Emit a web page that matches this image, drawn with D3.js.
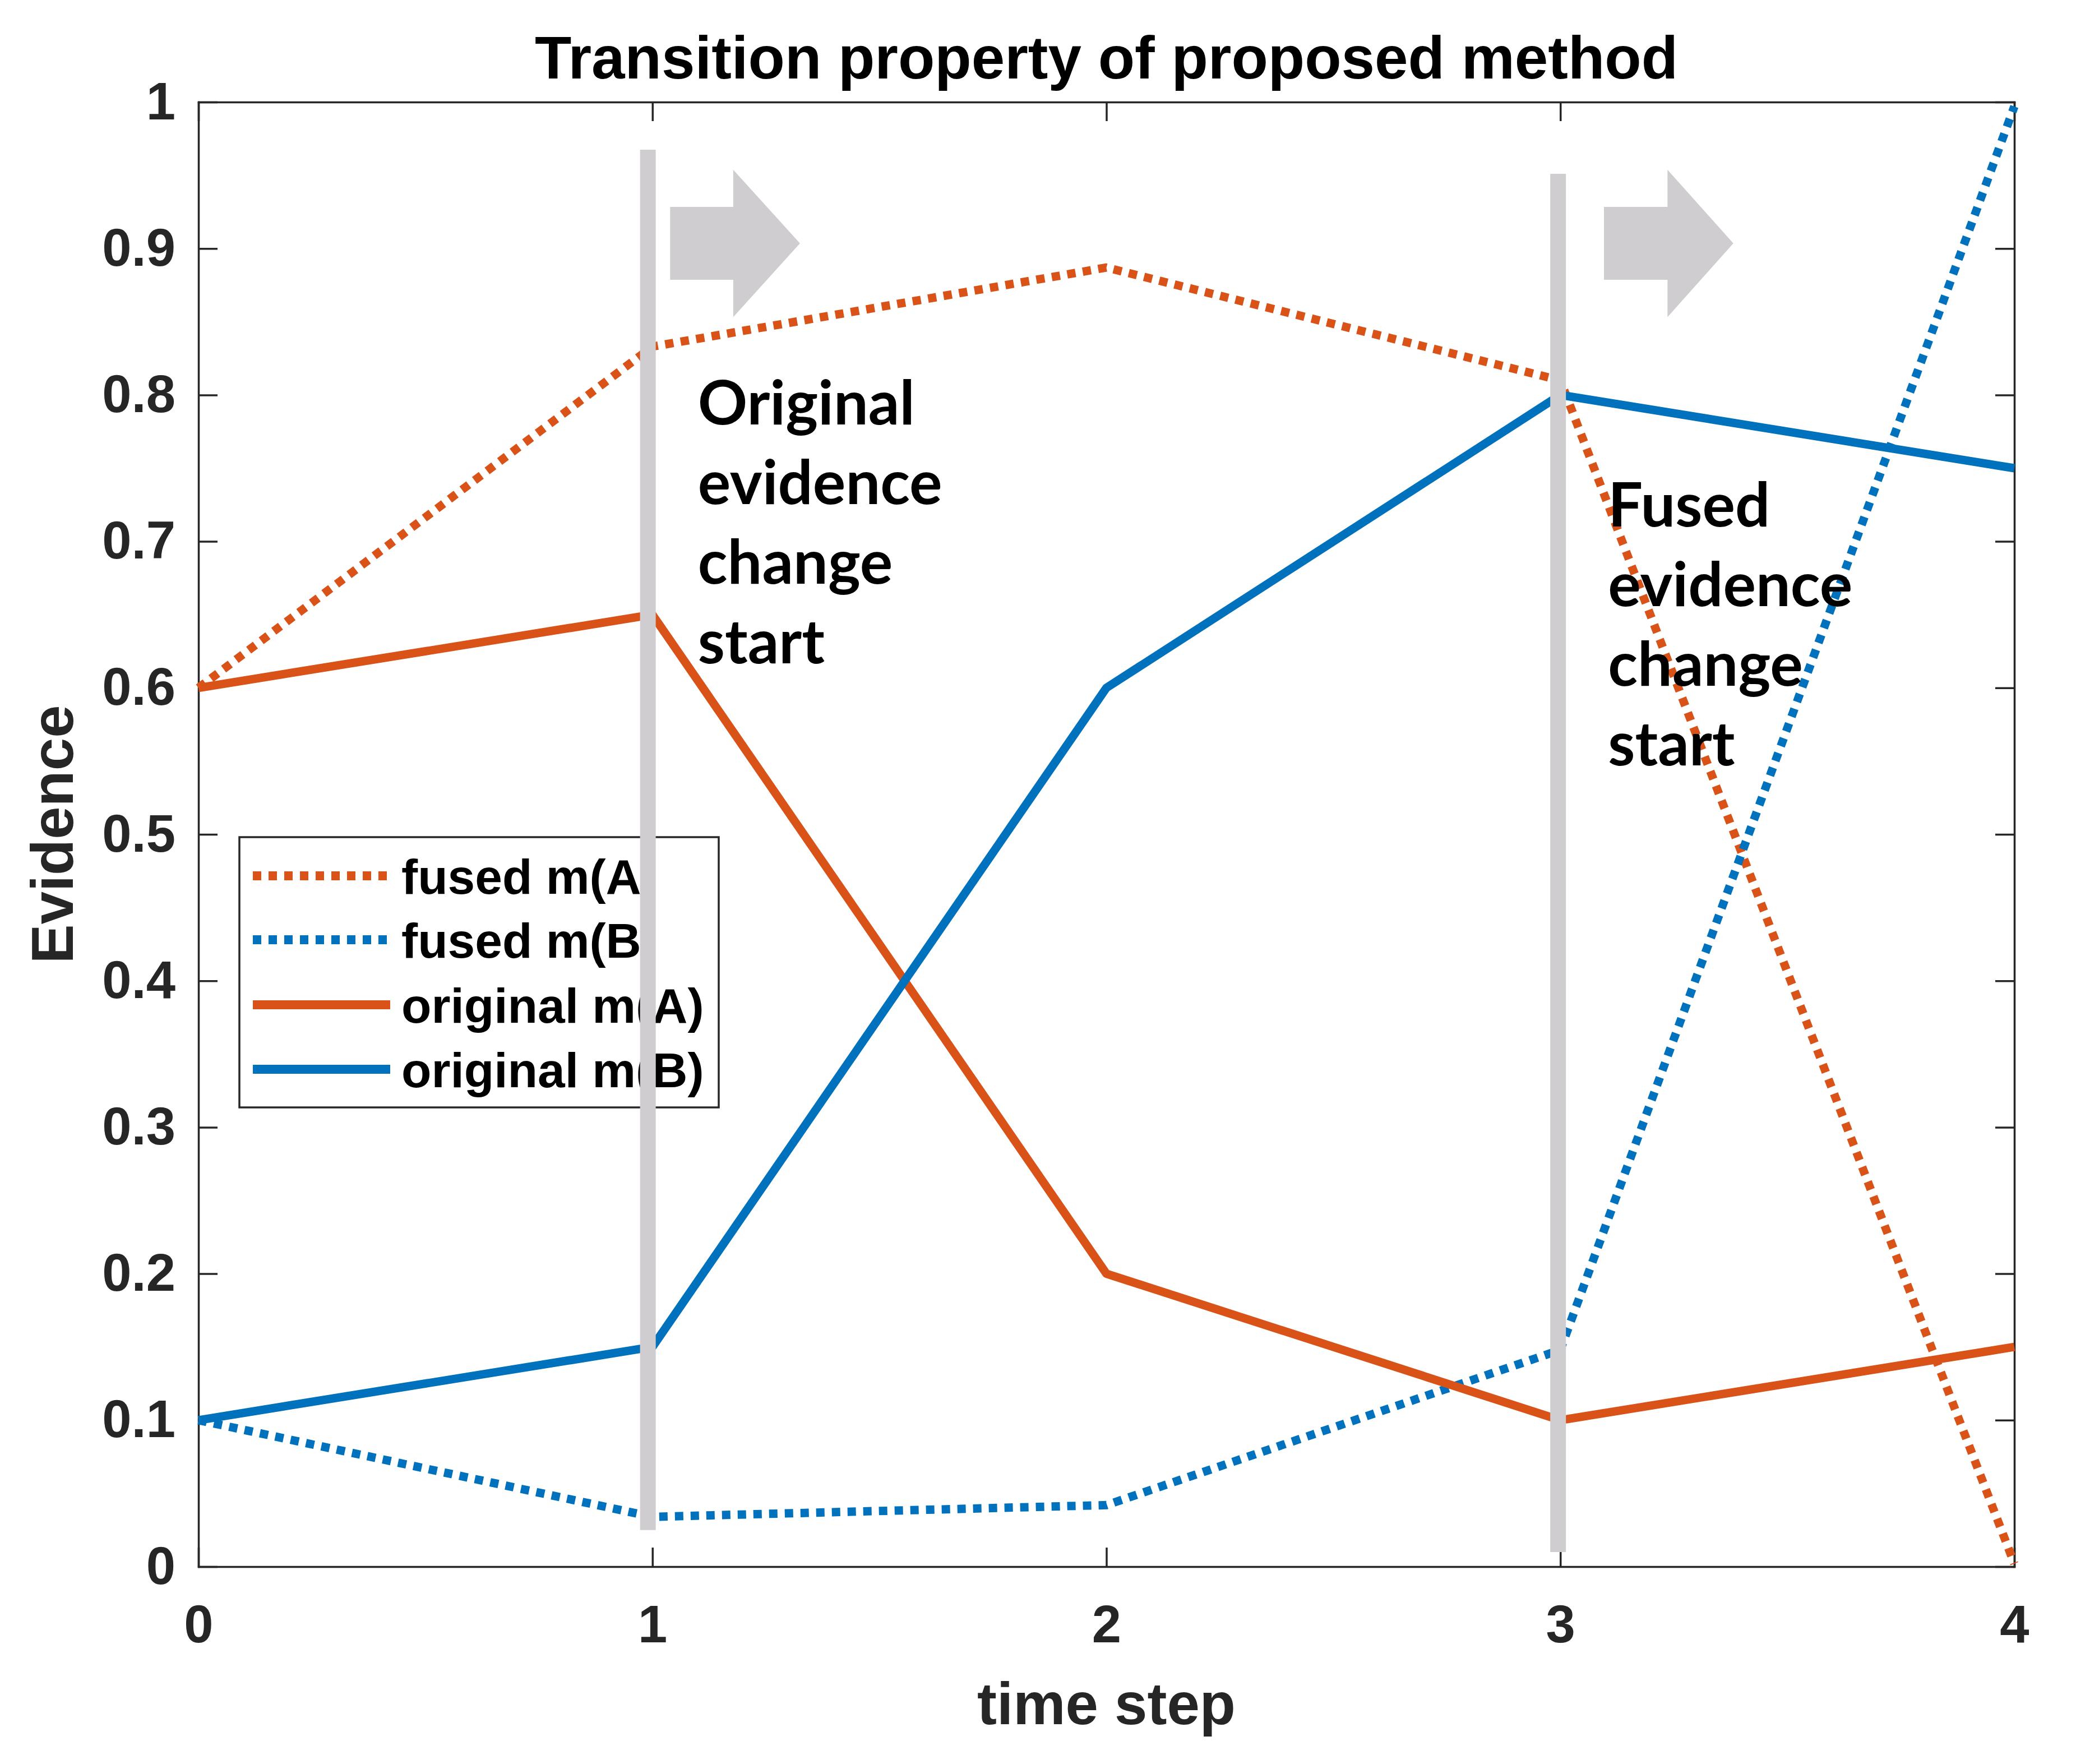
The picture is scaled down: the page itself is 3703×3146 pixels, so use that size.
<!DOCTYPE html>
<html><head><meta charset="utf-8">
<script src="https://cdn.jsdelivr.net/npm/d3@7"></script>
<style>body{margin:0;background:#fff}</style>
</head><body>
<script>
// ---------- data ----------
const timeSteps   = [0, 1, 2, 3, 4];
const fusedA      = [0.6, 0.833, 0.887, 0.81, 0.002];
const fusedB      = [0.1, 0.034, 0.042, 0.148, 0.997];
const originalA   = [0.6, 0.65, 0.2, 0.1, 0.15];
const originalB   = [0.1, 0.15, 0.6, 0.8, 0.75];
const seriesNames = ["fused m(A)", "fused m(B)", "original m(A)", "original m(B)"];
const xTicks      = [0, 1, 2, 3, 4];
const xTickLabels = ["0", "1", "2", "3", "4"];
const yTicks      = [0, 0.1, 0.2, 0.3, 0.4, 0.5, 0.6, 0.7, 0.8, 0.9, 1];
const yTickLabels = ["0", "0.1", "0.2", "0.3", "0.4", "0.5", "0.6", "0.7", "0.8", "0.9", "1"];
// annotations (data coordinates)
const markerX      = [0.99, 2.995];
const markerTop    = [0.9675, 0.951];
const markerBottom = [0.025, 0.01];
const arrowStart   = [1.039, 3.096];
const arrowNeck    = [1.178, 3.236];
const arrowTip     = [1.325, 3.381];
const arrowMid     = [0.9035, 0.9035];
const arrowShaftHalf = [0.0249, 0.0249];
const arrowHeadHalf  = [0.0503, 0.0503];
const annotationLines = [["Original", "evidence", "change", "start"], ["Fused", "evidence", "change", "start"]];
const annotationX = [1.100, 3.105];
const annotationY = [0.780, 0.710];
const titleText = "Transition property of proposed method";
const xLabelText = "time step";
const yLabelText = "Evidence";

// ---------- layout ----------
const W = 3703, H = 3146;
const L = 354, R = 3593, T = 182, B = 2794;
const ORANGE = "#D95319", BLUE = "#0072BD", AX = "#262626", GRAY = "#cfcdcf";
const ARIAL = "'Liberation Sans', Arial, sans-serif";

const svg = d3.select("body").append("svg").attr("width", W).attr("height", H)
  .style("display", "block").style("background", "#fff");

const x = d3.scaleLinear().domain([0, 4]).range([L, R]);
const y = d3.scaleLinear().domain([0, 1]).range([B, T]);

// axes
const tickLen = 34;
function styleAxis(g) {
  g.selectAll("path.domain").attr("stroke", AX).attr("stroke-width", 3.5);
  g.selectAll(".tick line").attr("stroke", AX).attr("stroke-width", 3.5);
  g.selectAll(".tick text").attr("fill", AX).style("font-family", ARIAL)
    .style("font-weight", "bold").style("font-size", "94px");
}
svg.append("g").attr("transform", `translate(0,${B})`)
  .call(d3.axisBottom(x).tickValues(xTicks).tickFormat((d, i) => xTickLabels[i])
    .tickSizeInner(-tickLen).tickSizeOuter(0).tickPadding(68))
  .call(styleAxis);
svg.append("g").attr("transform", `translate(0,${T})`)
  .call(d3.axisTop(x).tickValues(xTicks).tickFormat("").tickSizeInner(-tickLen).tickSizeOuter(0))
  .call(styleAxis);
svg.append("g").attr("transform", `translate(${L},0)`)
  .call(d3.axisLeft(y).tickValues(yTicks).tickFormat((d, i) => yTickLabels[i])
    .tickSizeInner(-tickLen).tickSizeOuter(0).tickPadding(41))
  .call(styleAxis);
svg.append("g").attr("transform", `translate(${R},0)`)
  .call(d3.axisRight(y).tickValues(yTicks).tickFormat("").tickSizeInner(-tickLen).tickSizeOuter(0))
  .call(styleAxis);
svg.selectAll(".domain").attr("stroke-linecap", "square");

// title & labels
svg.append("text").attr("x", (L + R) / 2).attr("y", 140).attr("text-anchor", "middle")
  .style("font-family", ARIAL).style("font-weight", "bold").style("font-size", "107px")
  .attr("fill", "#000").text(titleText);
svg.append("text").attr("x", (L + R) / 2).attr("y", 3075).attr("text-anchor", "middle")
  .style("font-family", ARIAL).style("font-weight", "bold").style("font-size", "105px")
  .attr("fill", AX).text(xLabelText);
svg.append("text").attr("transform", `translate(130,${(T + B) / 2}) rotate(-90)`)
  .attr("text-anchor", "middle")
  .style("font-family", ARIAL).style("font-weight", "bold").style("font-size", "105px")
  .attr("fill", AX).text(yLabelText);

// series
const series = [
  { name: seriesNames[0], values: fusedA, color: ORANGE, dash: "15,13" },
  { name: seriesNames[1], values: fusedB, color: BLUE, dash: "15,13" },
  { name: seriesNames[2], values: originalA, color: ORANGE, dash: null },
  { name: seriesNames[3], values: originalB, color: BLUE, dash: null }
];
const line = d3.line().x((d, i) => x(timeSteps[i])).y(d => y(d));
const LW = 15;
series.forEach(s => {
  svg.append("path").datum(s.values).attr("d", line)
    .attr("fill", "none").attr("stroke", s.color).attr("stroke-width", LW)
    .attr("stroke-linejoin", "round")
    .attr("stroke-dasharray", s.dash);
});

// legend
const lg = svg.append("g");
const lgX0 = 427, lgX1 = 1282, lgY0 = 1493, lgY1 = 1975;
lg.append("rect").attr("x", lgX0).attr("y", lgY0).attr("width", lgX1 - lgX0).attr("height", lgY1 - lgY0)
  .attr("fill", "#fff").attr("stroke", AX).attr("stroke-width", 3.5);
const rowY = [1562, 1676, 1792, 1907];
series.forEach((s, i) => {
  lg.append("line").attr("x1", 451).attr("x2", 696).attr("y1", rowY[i]).attr("y2", rowY[i])
    .attr("stroke", s.color).attr("stroke-width", 16).attr("stroke-dasharray", s.dash);
  lg.append("text").attr("x", 716).attr("y", rowY[i] + 32)
    .style("font-family", ARIAL).style("font-weight", "bold").style("font-size", "87.5px")
    .attr("fill", "#000").text(s.name);
});

// gray markers
markerX.forEach((mx, i) => {
  svg.append("line").attr("x1", x(mx)).attr("x2", x(mx))
    .attr("y1", y(markerTop[i])).attr("y2", y(markerBottom[i]))
    .attr("stroke", GRAY).attr("stroke-width", 28);
});
// arrows
arrowStart.forEach((a, i) => {
  const pts = [
    [x(a), y(arrowMid[i] + arrowShaftHalf[i])],
    [x(arrowNeck[i]), y(arrowMid[i] + arrowShaftHalf[i])],
    [x(arrowNeck[i]), y(arrowMid[i] + arrowHeadHalf[i])],
    [x(arrowTip[i]), y(arrowMid[i])],
    [x(arrowNeck[i]), y(arrowMid[i] - arrowHeadHalf[i])],
    [x(arrowNeck[i]), y(arrowMid[i] - arrowShaftHalf[i])],
    [x(a), y(arrowMid[i] - arrowShaftHalf[i])]
  ];
  svg.append("path").attr("d", d3.line()(pts) + "Z").attr("fill", GRAY);
});

// annotation text
const ANN = "Lato, 'Noto Sans', 'Open Sans', sans-serif";
const probe = svg.append("text").style("font-family", ANN).style("font-weight", "bold")
  .style("font-size", "100px").text("evidence");
const probeW = probe.node().getComputedTextLength();
probe.remove();
const annSize = 100 * 436 / probeW;
annotationLines.forEach((lines, i) => {
  const t = svg.append("text").attr("x", x(annotationX[i])).attr("y", y(annotationY[i]))
    .style("font-family", ANN).style("font-weight", "bold").style("font-size", annSize + "px")
    .attr("fill", "#000");
  lines.forEach((ln, j) => {
    t.append("tspan").attr("x", x(annotationX[i])).attr("y", y(annotationY[i]) + j * 142).text(ln);
  });
});
</script>
</body></html>
